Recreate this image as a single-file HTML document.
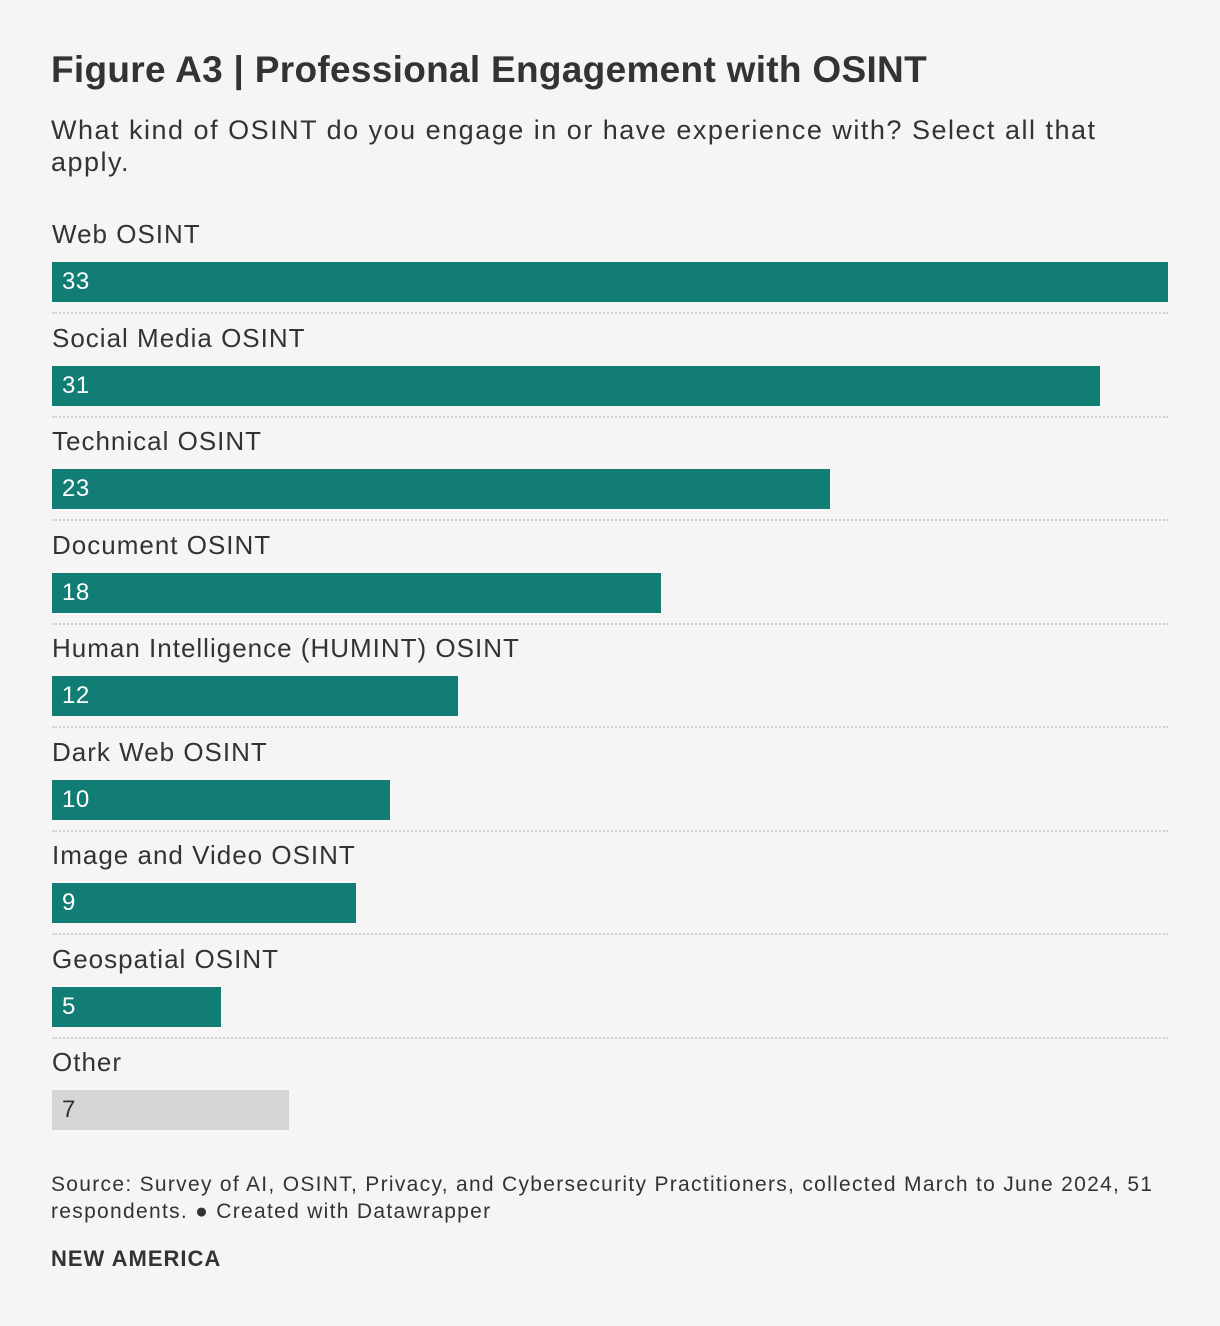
<!DOCTYPE html>
<html><head><meta charset="utf-8"><style>
body{margin:0;background:#f5f5f5;width:1220px;height:1326px;position:relative;overflow:hidden;font-family:"Liberation Sans",sans-serif;color:#333}
.abs{position:absolute;white-space:nowrap}
.lbl{font-size:26px;color:#333;line-height:30px;letter-spacing:1px}
.bar{position:absolute;height:40px}
.val{position:absolute;left:10px;top:0;line-height:40px;font-size:24px;letter-spacing:0.5px}
.sep{position:absolute;left:52px;width:1116px;border-top:2px dotted #d0d0d0;height:0}
</style></head><body>
<div class="abs" style="left:51px;top:49px;font-size:37px;font-weight:bold;color:#333;letter-spacing:0.3px">Figure A3 | Professional Engagement with OSINT</div>
<div class="abs" style="left:51px;top:114px;font-size:27px;line-height:32px;color:#333;letter-spacing:1.5px">What kind of OSINT do you engage in or have experience with? Select all that<br>apply.</div>
<div id="chart"></div>
<div class="abs" style="left:51px;top:1171px;font-size:21px;line-height:27px;color:#333;letter-spacing:1.3px">Source: Survey of AI, OSINT, Privacy, and Cybersecurity Practitioners, collected March to June 2024, 51<br>respondents. ● Created with Datawrapper</div>
<div class="abs" style="left:51px;top:1246px;font-size:22px;font-weight:bold;color:#333;letter-spacing:1px">NEW AMERICA</div>
<script>
const categories=["Web OSINT","Social Media OSINT","Technical OSINT","Document OSINT","Human Intelligence (HUMINT) OSINT","Dark Web OSINT","Image and Video OSINT","Geospatial OSINT","Other"];
const values=[33,31,23,18,12,10,9,5,7];
const maxVal=33;
const c=document.getElementById('chart');
const x0=52,w=1116,rowStart=262,rowStep=103.5;
function xs(v){return v/maxVal*w;}
categories.forEach((cat,i)=>{
  const top=rowStart+i*rowStep;
  const l=document.createElement('div');
  l.className='abs lbl';
  
  
  l.style.left='52px';l.style.top=(top-43)+'px';l.textContent=cat;c.appendChild(l);
  const b=document.createElement('div');
  b.className='bar';
  
  
  const other=cat==='Other';
  b.style.left=x0+'px';b.style.top=top+'px';b.style.width=xs(values[i])+'px';
  b.style.background=other?'#d6d6d6':'#127d74';
  const t=document.createElement('div');
  t.className='val';
  
  
  t.style.color=other?'#333':'#fff';t.textContent=values[i];b.appendChild(t);c.appendChild(b);
  if(i<categories.length-1){
    const s=document.createElement('div');
    s.className='sep';
    
    
    s.style.top=(top+50)+'px';c.appendChild(s);
  }
});
</script>
</body></html>
